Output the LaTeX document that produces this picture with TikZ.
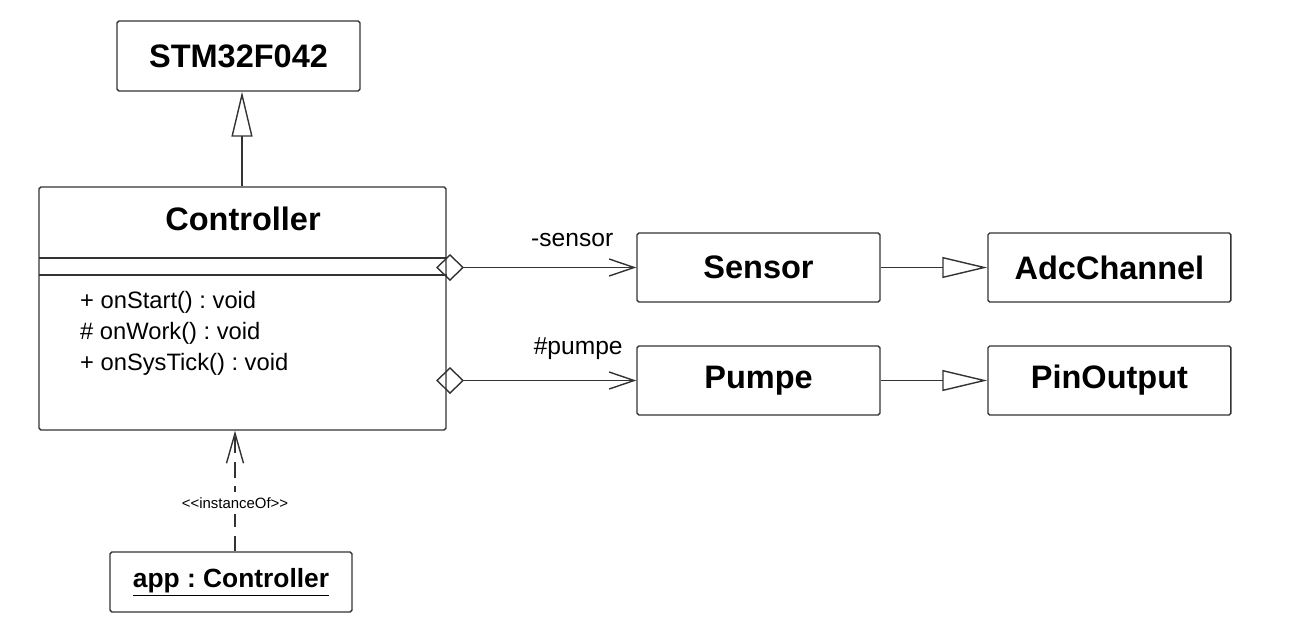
\documentclass[tikz,border=0pt]{standalone}
\usepackage{fontspec}
\setmainfont{Liberation Sans}
\frenchspacing
\usepackage{tikz}
\usetikzlibrary{calc, arrows.meta, positioning}

\begin{document}
\begin{tikzpicture}[x=0.02cm, y=-0.02cm, node distance=7.02cm, >=Latex]
    \tikzstyle{cls} = [rectangle, draw=black!80, line width=0.8pt, rounded corners=1pt, minimum width=4.86cm, minimum height=1.38cm, font=\fontsize{18.5}{22}\selectfont\bfseries]
    \tikzstyle{line} = [draw=black!80, line width=0.8pt]
    \tikzstyle{gen} = [line, -{Triangle[open, length=0.9cm, width=0.42cm]}]
    \tikzstyle{assoc} = [line, {Diamond[open, length=0.56cm, width=0.54cm]}-{Straight Barb[length=0.5cm, width=0.34cm]}]
    \tikzstyle{role} = [font=\fontsize{14}{16}\selectfont]

    \useasboundingbox (0,0) rectangle (1290,637);

    % classes
    \node [cls, minimum height=1.4cm] (stm) at (238.5,56) {STM32F042};
    \node [cls, minimum width=8.14cm, minimum height=4.86cm] (ctrl) at (242.5,308.5) {};
    \node [font=\fontsize{18.5}{22}\selectfont\bfseries] (ctrltitle) at (243,219) {Controller};
    \node [cls] (sensor) at (758.5,267.5) {Sensor};
    \node [cls, right of=sensor] (adc) {AdcChannel};
    \node [cls] (pumpe) at (758.5,380.5) {Pumpe};
    \node [cls, right of=pumpe] (pin) {PinOutput};
    \node [cls, minimum width=4.84cm, minimum height=1.2cm, font=\fontsize{15}{18}\selectfont\bfseries] (app) at (231,582) {\underline{app : Controller}};

    % compartments of Controller
    \coordinate (attrtop) at (39,258);
    \coordinate (attrbot) at (39,275);
    \path [line] (attrtop) -- (attrtop -| ctrl.east);
    \path [line] (attrbot) -- (attrbot -| ctrl.east);
    \node [anchor=west, align=left, font=\fontsize{13.5}{17.6}\selectfont] (ops) at (74,333)
        {+ onStart() : void\\\# onWork() : void\\+ onSysTick() : void};

    % relations
    \coordinate (sensagg) at (436,267.5);
    \coordinate (pumpagg) at (436,380.5);
    \coordinate (stmfoot) at (stm.south -| 242,0);
    \path [gen] (ctrl.north -| stmfoot) -- (stmfoot);
    \path [assoc] (sensagg) -- node [role, above, pos=0.68, yshift=8pt] {-sensor} (sensor);
    \path [assoc] (pumpagg) -- node [role, above, pos=0.71, yshift=8pt] {\#pumpe} (pumpe);
    \path [gen] (sensor) -- (adc);
    \path [gen] (pumpe) -- (pin);
    \path [line, dash pattern=on 9pt off 5pt, -{Straight Barb[length=0.6cm, width=0.34cm]}]
        (app.north -| 235,0) -- node [fill=white, font=\fontsize{8.5}{10}\selectfont, pos=0.4] {{<}{<}instanceOf{>}{>}} (ctrl.south -| 235,0);
\end{tikzpicture}
\end{document}
